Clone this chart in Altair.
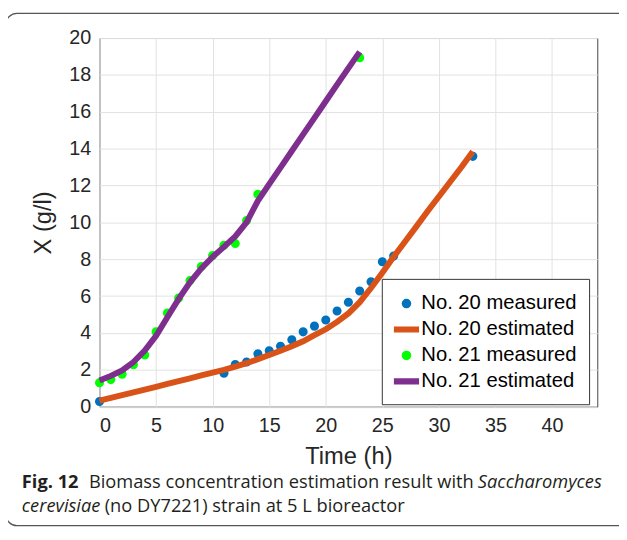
import altair as alt
import pandas as pd

# ---- data ----
t20_meas = [0, 11, 12, 13, 14, 15, 16, 17, 18, 19, 20, 21, 22, 23, 24, 25, 26, 33]
x20_meas = [0.28, 1.81, 2.29, 2.42, 2.87, 3.04, 3.28, 3.63, 4.06, 4.37, 4.70, 5.19,
            5.67, 6.28, 6.78, 7.86, 8.17, 13.58]

t21_meas = [0, 1, 2, 3, 4, 5, 6, 7, 8, 9, 10, 11, 12, 13, 14, 23]
x21_meas = [1.30, 1.47, 1.76, 2.28, 2.80, 4.06, 5.08, 5.90, 6.85, 7.60, 8.20, 8.76,
            8.85, 10.10, 11.53, 18.93]

t20_est = list(range(0, 34))
x20_est = [0.33, 0.48, 0.63, 0.78, 0.93, 1.08, 1.24, 1.39, 1.54, 1.70, 1.85, 2.00,
           2.17, 2.36, 2.58, 2.81, 3.04, 3.28, 3.55, 3.88, 4.20, 4.60, 5.06, 5.67,
           6.44, 7.27, 8.13, 8.95, 9.77, 10.60, 11.40, 12.20, 13.00, 13.85]

t21_est = list(range(0, 24))
x21_est = [1.42, 1.67, 1.97, 2.42, 3.04, 3.85, 4.85, 5.85, 6.75, 7.50, 8.13, 8.67,
           9.24, 10.00, 11.17, 12.07, 12.97, 13.87, 14.77, 15.67, 16.57, 17.47,
           18.37, 19.25]

series_names = ["No. 20 measured", "No. 20 estimated", "No. 21 measured", "No. 21 estimated"]
series_colors = ["#0072BD", "#D95319", "#00FF00", "#7E2F8E"]

x_ticks = [0, 5, 10, 15, 20, 25, 30, 35, 40]
y_ticks = [0, 2, 4, 6, 8, 10, 12, 14, 16, 18, 20]

caption_bold = "Fig. 12"
caption_line1 = "Biomass concentration estimation result with"
caption_italic1 = "Saccharomyces"
caption_italic2 = "cerevisiae"
caption_line2 = "(no DY7221) strain at 5 L bioreactor"

# ---- table ----
rows = []
for name, ts, xs in [(series_names[0], t20_meas, x20_meas),
                     (series_names[1], t20_est, x20_est),
                     (series_names[2], t21_meas, x21_meas),
                     (series_names[3], t21_est, x21_est)]:
    for t, v in zip(ts, xs):
        rows.append({"t": t, "x": v, "series": name})
df = pd.DataFrame(rows)
one = pd.DataFrame({"k": [0]})

W, H = 504.3, 373.5
X0, Y0 = 100.7, 35.0   # page position of plot origin

CIRCLE = "M0,-0.34A0.34,0.34 0 1,1 0,0.34A0.34,0.34 0 1,1 0,-0.34Z"
BAR = "M-1,-0.2L1,-0.2L1,0.2L-1,0.2Z"
series_shapes = [CIRCLE, BAR, CIRCLE, BAR]

legend = alt.Legend(
    title=None, orient="none", legendX=286, legendY=244,
    fillColor="white", strokeColor="#333333", padding=12,
    labelFont="Liberation Sans", labelFontSize=20.5, labelColor="#000000",
    symbolSize=576, rowPadding=2.3, labelOffset=2, symbolOpacity=1,
)

color = alt.Color("series:N", scale=alt.Scale(domain=series_names, range=series_colors), legend=legend)
shape = alt.Shape("series:N", scale=alt.Scale(domain=series_names, range=series_shapes), legend=legend)

x_enc = alt.X("t:Q", scale=alt.Scale(domain=[0, 44], nice=False, zero=False),
              axis=alt.Axis(values=x_ticks, title="Time (h)", titleY=57.5,
                            titleBaseline="alphabetic"))
y_enc = alt.Y("x:Q", scale=alt.Scale(domain=[0, 20], nice=False),
              axis=alt.Axis(values=y_ticks, title="X (g/l)", titleX=-50, titleY=H / 2,
                            titleAngle=270, titleAlign="center",
                            titleBaseline="alphabetic"))

base = alt.Chart(df)

def pts(name):
    return base.transform_filter(alt.datum.series == name).mark_point(
        filled=True, size=729, opacity=1, strokeWidth=0
    ).encode(x=x_enc, y=y_enc, color=color, shape=shape)

def line(name):
    return base.transform_filter(alt.datum.series == name).mark_line(
        strokeWidth=6
    ).encode(x=x_enc, y=y_enc, color=color)

border = alt.Chart(one).mark_rect(
    filled=False, stroke="#555555", strokeWidth=1.3, cornerRadius=11
).encode(x=alt.value(6 - X0), x2=alt.value(640 - X0),
         y=alt.value(10 - Y0), y2=alt.value(529 - Y0))

def cap(text, px, py, weight="normal", style="normal", align="left"):
    return alt.Chart(one).mark_text(
        text=text, font="Open Sans", fontSize=18.5, fontWeight=weight, fontStyle=style,
        align=align, baseline="alphabetic", color="#231f20"
    ).encode(x=alt.value(px - X0), y=alt.value(py - Y0))

chart = alt.layer(
    border,
    pts(series_names[0]),
    line(series_names[1]),
    pts(series_names[2]),
    line(series_names[3]),
    cap(caption_bold, 22, 491, weight="bold"),
    cap(caption_line1, 90, 491),
    cap(caption_italic1, 484, 491, style="italic"),
    cap(caption_italic2, 22, 515, style="italic"),
    cap(caption_line2, 106, 515),
).properties(
    width=W, height=H,
    padding={"left": X0 - 8, "top": Y0 - 8, "right": 22, "bottom": 122},
    autosize=alt.AutoSizeParams(type="none"),
).configure_view(
    stroke="#444444", strokeWidth=1
).configure_axis(
    domain=False, ticks=False, grid=True, gridColor="#e2e2e2", gridWidth=1,
    labelFont="Liberation Sans", labelFontSize=20, labelColor="#262626", labelPadding=9,
    titleFont="Liberation Sans", titleFontSize=24, titleColor="#262626", titleFontWeight="normal",
)

chart.save("out.html", embed_options={"renderer": "svg", "actions": False})
